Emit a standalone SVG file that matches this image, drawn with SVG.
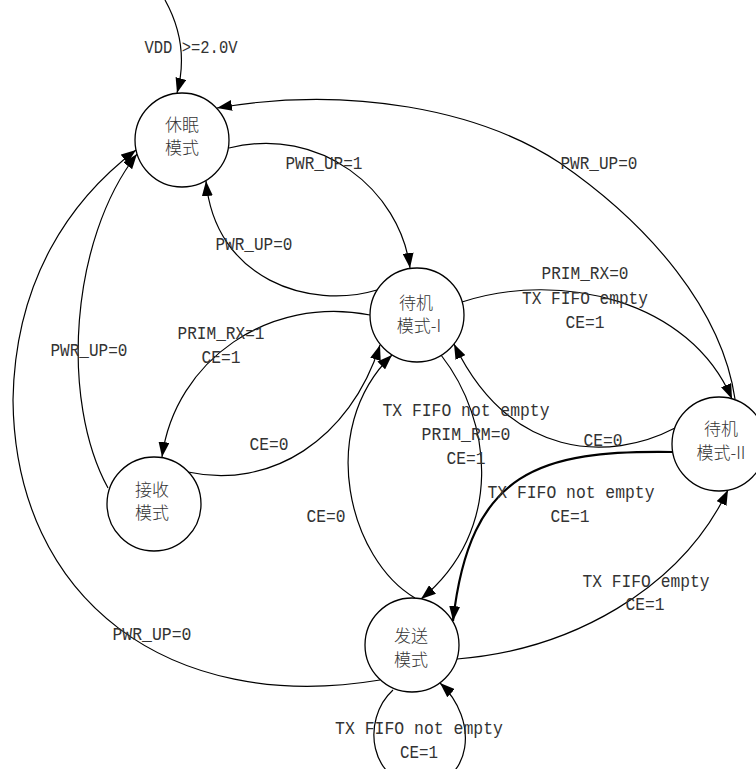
<svg xmlns="http://www.w3.org/2000/svg" width="756" height="769" viewBox="0 0 756 769">
<style>
.node circle{fill:#fff;stroke:#000;stroke-width:1.3}
.cn{font-family:"Noto Sans CJK SC","Noto Sans",sans-serif;font-size:17px;font-weight:300;fill:#333;text-anchor:middle}
.lbl{font-family:"Liberation Mono","DejaVu Sans Mono",monospace;font-size:19px;fill:#333;text-anchor:middle}
.e{fill:none;stroke:#000;stroke-width:1.2}
.arr{marker-end:url(#ah)}
.bold{stroke-width:2.2}
</style>
<defs>
<marker id="ah" markerUnits="userSpaceOnUse" markerWidth="15" markerHeight="11" refX="15" refY="5.5" orient="auto">
<path d="M0,0 L15,5.5 L0,11 z" fill="#000"/>
</marker>
</defs>
<rect width="756" height="769" fill="#fff"/>
<g id="connectors">
<path class="e arr" d="M165 0 Q190 45 177 93"/>
<path class="e arr" d="M229 148 C320 125 400 190 410 268"/>
<path class="e arr" d="M377 290 C310 310 215 280 206 181"/>
<path class="e arr" d="M735 399 C722 310 650 225 560 163 C480 110 350 85 217 108"/>
<path class="e arr" d="M462 302 C560 270 690 300 732 399"/>
<path class="e arr" d="M370 315 C270 295 175 360 162 457"/>
<path class="e arr" d="M188 472 C270 490 350 440 380 345"/>
<path class="e arr" d="M415 598 C350 560 315 430 392 355"/>
<path class="e arr" d="M441 355 C492 420 505 530 421 599"/>
<path class="e arr" d="M675 428 C610 462 510 460 454 344"/>
<path class="e arr bold" d="M673 452 C540 450 470 470 453 621"/>
<path class="e arr" d="M457 659 C570 650 680 590 728 490"/>
<path class="e" d="M380 680 C170 715 15 600 13 400"/>
<path class="e arr" d="M13 400 C15 280 70 200 136 150"/>
<path class="e arr" d="M108 488 C60 400 70 240 137 154"/>
<path class="e arr" d="M393 690 C360 720 370 785 421 785 C472 785 480 720 440 683"/>
</g>
<g id="labels">
<text class="lbl" x="191" y="53" textLength="93" lengthAdjust="spacingAndGlyphs">VDD >=2.0V</text>
<text class="lbl" x="324" y="169" textLength="77" lengthAdjust="spacingAndGlyphs">PWR_UP=1</text>
<text class="lbl" x="254" y="250" textLength="77" lengthAdjust="spacingAndGlyphs">PWR_UP=0</text>
<text class="lbl" x="599" y="169" textLength="77" lengthAdjust="spacingAndGlyphs">PWR_UP=0</text>
<text class="lbl" x="585" y="279" textLength="87" lengthAdjust="spacingAndGlyphs">PRIM_RX=0</text>
<text class="lbl" x="585" y="304" textLength="126" lengthAdjust="spacingAndGlyphs">TX FIFO empty</text>
<text class="lbl" x="585" y="328" textLength="39" lengthAdjust="spacingAndGlyphs">CE=1</text>
<text class="lbl" x="221" y="339" textLength="87" lengthAdjust="spacingAndGlyphs">PRIM_RX=1</text>
<text class="lbl" x="221" y="363" textLength="39" lengthAdjust="spacingAndGlyphs">CE=1</text>
<text class="lbl" x="89" y="356" textLength="77" lengthAdjust="spacingAndGlyphs">PWR_UP=0</text>
<text class="lbl" x="269" y="450" textLength="39" lengthAdjust="spacingAndGlyphs">CE=0</text>
<text class="lbl" x="326" y="522" textLength="39" lengthAdjust="spacingAndGlyphs">CE=0</text>
<text class="lbl" x="466" y="416" textLength="167" lengthAdjust="spacingAndGlyphs">TX FIFO not empty</text>
<text class="lbl" x="466" y="440" textLength="89" lengthAdjust="spacingAndGlyphs">PRIM_RM=0</text>
<text class="lbl" x="466" y="464" textLength="39" lengthAdjust="spacingAndGlyphs">CE=1</text>
<text class="lbl" x="603" y="446" textLength="39" lengthAdjust="spacingAndGlyphs">CE=0</text>
<text class="lbl" x="571" y="498" textLength="167" lengthAdjust="spacingAndGlyphs">TX FIFO not empty</text>
<text class="lbl" x="570" y="522" textLength="39" lengthAdjust="spacingAndGlyphs">CE=1</text>
<text class="lbl" x="646" y="587" textLength="127" lengthAdjust="spacingAndGlyphs">TX FIFO empty</text>
<text class="lbl" x="645" y="610" textLength="39" lengthAdjust="spacingAndGlyphs">CE=1</text>
<text class="lbl" x="152" y="640" textLength="79" lengthAdjust="spacingAndGlyphs">PWR_UP=0</text>
<text class="lbl" x="419" y="734" textLength="168" lengthAdjust="spacingAndGlyphs">TX FIFO not empty</text>
<text class="lbl" x="419" y="758" textLength="38" lengthAdjust="spacingAndGlyphs">CE=1</text>
</g>
<g id="sleep" class="node"><circle cx="182" cy="140" r="47"/><text class="cn" x="182" y="131">休眠</text><text class="cn" x="182" y="154">模式</text></g>
<g id="standby1" class="node"><circle cx="417" cy="315" r="47"/><text class="cn" x="416" y="309">待机</text><text class="cn" x="419" y="332">模式-I</text></g>
<g id="rx" class="node"><circle cx="154" cy="504" r="47"/><text class="cn" x="152" y="496">接收</text><text class="cn" x="152" y="519">模式</text></g>
<g id="standby2" class="node"><circle cx="719" cy="444" r="47"/><text class="cn" x="721" y="435">待机</text><text class="cn" x="721" y="459">模式-II</text></g>
<g id="tx" class="node"><circle cx="412" cy="645" r="47"/><text class="cn" x="411" y="642">发送</text><text class="cn" x="411" y="666">模式</text></g>
</svg>
